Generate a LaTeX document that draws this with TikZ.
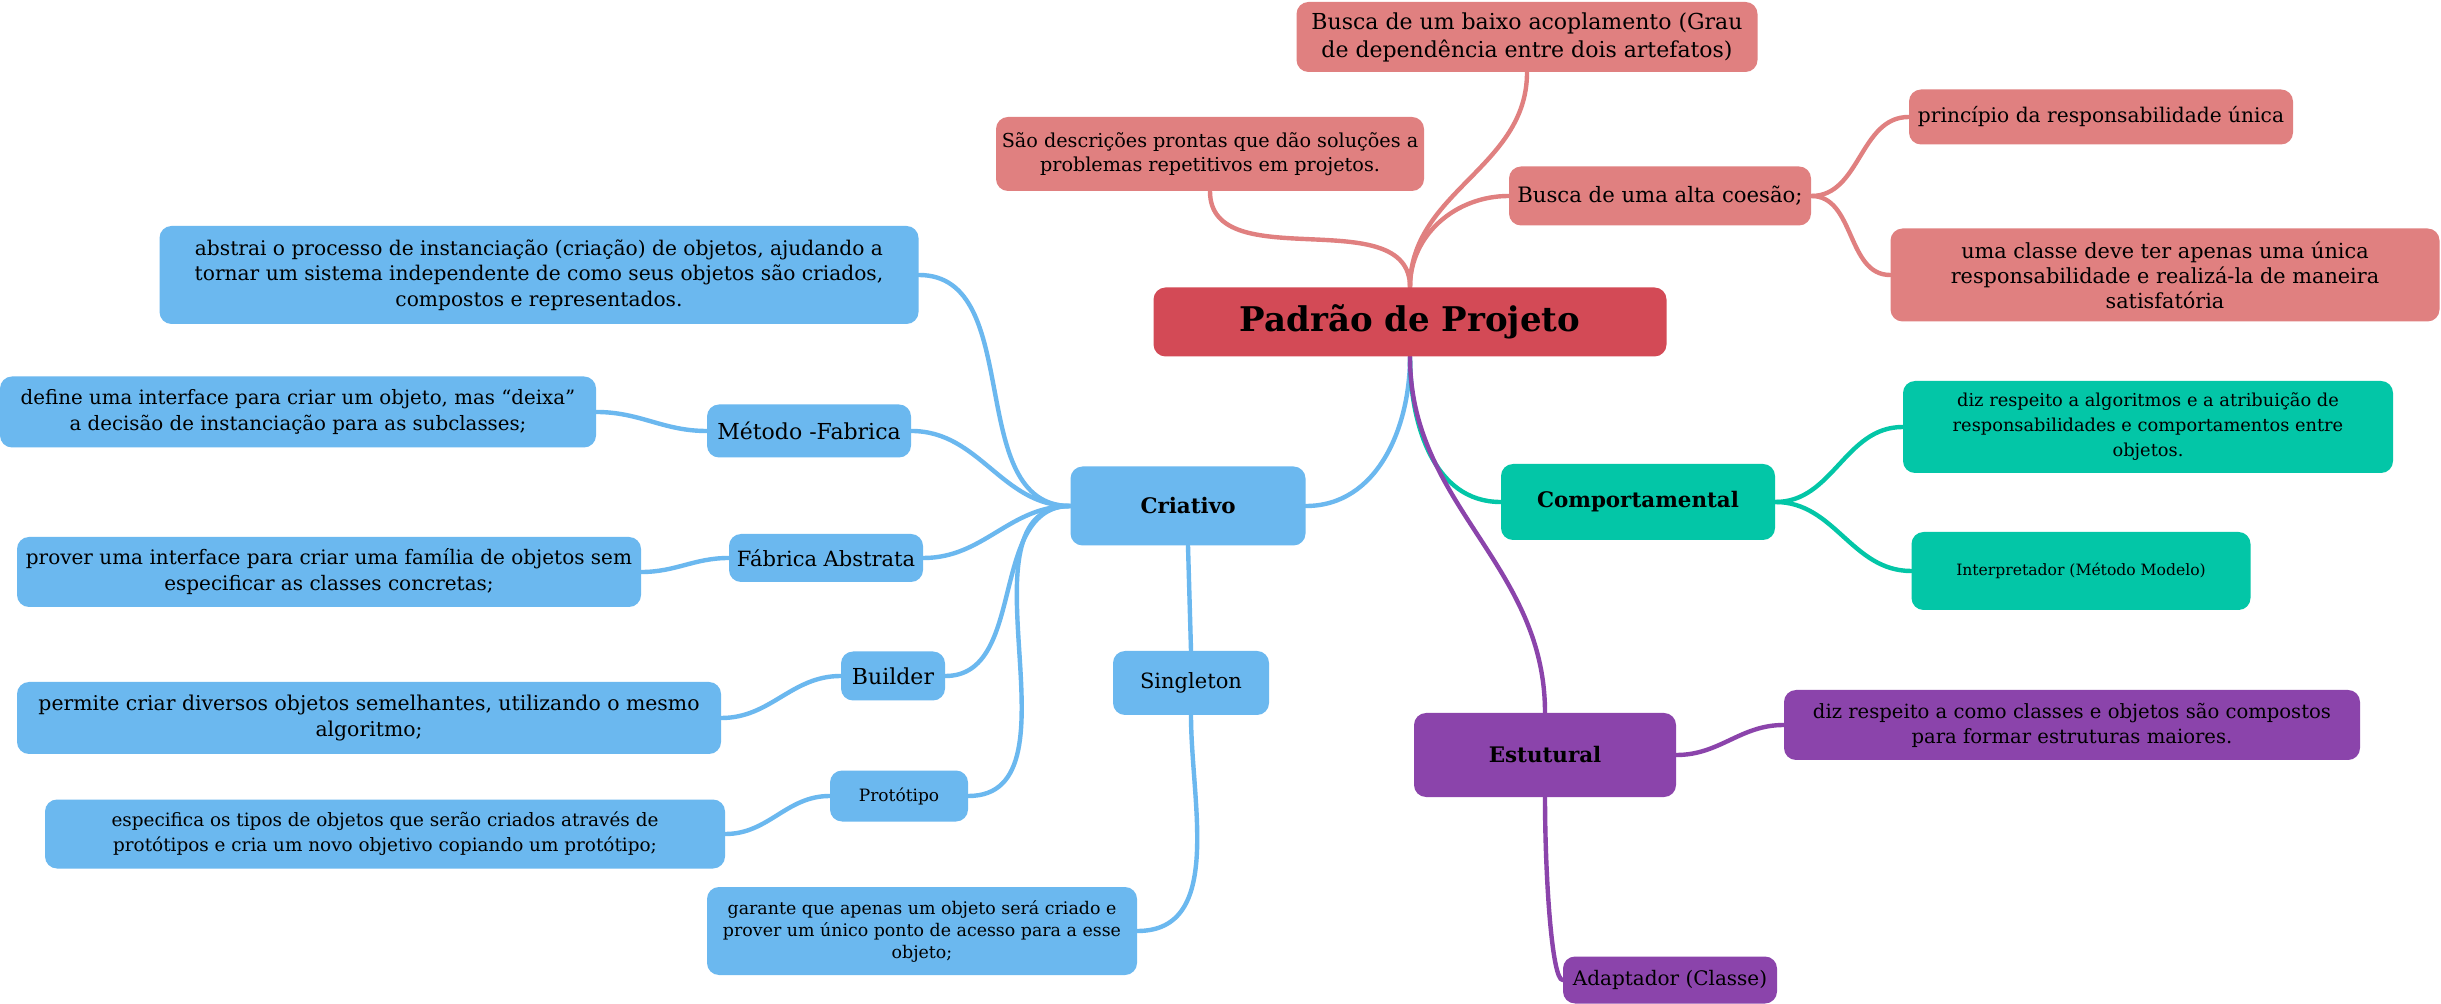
\documentclass[tikz,border=0pt]{standalone}
\usepackage{fontspec}
\setmainfont{DejaVu Serif}
\usepackage{tikz}
\usetikzlibrary{positioning,backgrounds}
\definecolor{raiz}{HTML}{D34A56}
\definecolor{rosa}{HTML}{E08080}
\definecolor{azul}{HTML}{6BB8EF}
\definecolor{verde}{HTML}{03C6A7}
\definecolor{roxo}{HTML}{8B44AB}

\begin{document}
\begin{tikzpicture}[
  x=0.5pt, y=-0.5pt,
  box/.style={rounded corners=6pt, align=center, inner sep=2pt, text=black},
  fs/.style 2 args={font=\fontsize{#1}{#2}\selectfont},
  hd/.style={box, font=\fontsize{10.7}{13}\selectfont\bfseries},
  pk/.style={box, fill=rosa},
  bl/.style={box, fill=azul},
  gr/.style={box, fill=verde},
  pu/.style={box, fill=roxo},
  lnk/.style={line width=2.2pt, line cap=round}
]
\useasboundingbox (0,0) rectangle (2441,1004);

\node[box, fill=raiz, minimum width=256.5pt, minimum height=34.5pt, font=\fontsize{17}{20}\selectfont\bfseries] (P) at (1410,322) {Padrão de Projeto};

\node[pk, fs={11}{14}, minimum width=230.5pt, minimum height=35pt] (acop) at (1527,37) {Busca de um baixo acoplamento (Grau\\de dependência entre dois artefatos)};
\node[pk, fs={9.6}{11.7}, minimum width=214pt, minimum height=37pt] (desc) at (1210,154) {São descrições prontas que dão soluções a\\problemas repetitivos em projetos.};
\node[pk, fs={10.6}{13}, minimum width=151pt, minimum height=29.5pt] (coes) at (1660,196) {Busca de uma alta coesão;};
\node[pk, fs={10.1}{12}, minimum width=192pt, minimum height=27.5pt] (resp) at (2101,117) {princípio da responsabilidade única};
\node[pk, fs={10.4}{12.5}, minimum width=274.5pt, minimum height=46.5pt] (classe) at (2165,275) {uma classe deve ter apenas uma única\\responsabilidade e realizá-la de maneira\\satisfatória};

\node[hd, fill=azul, minimum width=117.5pt, minimum height=39.5pt] (C) at (1188,506) {Criativo};
\node[bl, fs={10.1}{12.8}, minimum width=379.5pt, minimum height=49pt] (abs) at (539,275) {abstrai o processo de instanciação (criação) de objetos, ajudando a\\tornar um sistema independente de como seus objetos são criados,\\compostos e representados.};
\node[bl, fs={11}{13}, minimum width=102pt, minimum height=26.5pt] (mf) at (809,431) {Método -Fabrica};
\node[bl, fs={9.9}{13}, minimum width=298pt, minimum height=35.5pt] (mfd) at (298,412) {define uma interface para criar um objeto, mas “deixa”\\a decisão de instanciação para as subclasses;};
\node[bl, fs={10.5}{13}, minimum width=97pt, minimum height=24pt] (fa) at (826,558) {Fábrica Abstrata};
\node[bl, fs={10}{13}, minimum width=312pt, minimum height=35pt] (fad) at (329,572) {prover uma interface para criar uma família de objetos sem\\especificar as classes concretas;};
\node[bl, fs={11}{13}, minimum width=52pt, minimum height=24.5pt] (bu) at (893,676) {Builder};
\node[bl, fs={10.2}{13}, minimum width=352pt, minimum height=36pt] (bud) at (369,718) {permite criar diversos objetos semelhantes, utilizando o mesmo\\algoritmo;};
\node[bl, fs={8.5}{10}, minimum width=69pt, minimum height=25.5pt] (pr) at (899,796) {Protótipo};
\node[bl, fs={9.2}{12.5}, minimum width=340pt, minimum height=34.5pt] (prd) at (385,834) {especifica os tipos de objetos que serão criados através de\\protótipos e cria um novo objetivo copiando um protótipo;};
\node[bl, fs={10.5}{13}, minimum width=78pt, minimum height=32pt] (si) at (1191,683) {Singleton};
\node[bl, fs={8.7}{11}, minimum width=215pt, minimum height=44pt] (sid) at (922,931) {garante que apenas um objeto será criado e\\prover um único ponto de acesso para a esse\\objeto;};

\node[hd, fill=verde, minimum width=137pt, minimum height=38pt] (Co) at (1638,502) {Comportamental};
\node[gr, fs={8.9}{12.5}, minimum width=245pt, minimum height=46pt] (cod) at (2148,427) {diz respeito a algoritmos e a atribuição de\\responsabilidades e comportamentos entre\\objetos.};
\node[gr, fs={7.8}{10}, minimum width=169.5pt, minimum height=39pt] (int) at (2081,571) {Interpretador (Método Modelo)};

\node[hd, fill=roxo, minimum width=131pt, minimum height=42pt] (E) at (1545,755) {Estutural};
\node[pu, fs={9.8}{12.5}, minimum width=288pt, minimum height=35pt] (esd) at (2072,725) {diz respeito a como classes e objetos são compostos\\para formar estruturas maiores.};
\node[pu, fs={10}{12}, minimum width=107pt, minimum height=23.5pt] (ad) at (1670,980) {Adaptador (Classe)};

\begin{scope}[on background layer]
\fill[white] (0,0) rectangle (2441,1004);
\draw[lnk, rosa] (P.north) to[out=90,in=-90] (desc.south);
\draw[lnk, rosa] (P.north) to[out=90,in=-90] (acop.south);
\draw[lnk, rosa] (P.north) to[out=90,in=180] (coes.west);
\draw[lnk, rosa] (coes.east) to[out=0,in=180] (resp.west);
\draw[lnk, rosa] (coes.east) to[out=0,in=180] (classe.west);

\draw[lnk, azul] (P.south) to[out=-90,in=0] (C.east);
\draw[lnk, azul] (C.west) to[out=180,in=0] (abs.east);
\draw[lnk, azul] (C.west) to[out=180,in=0] (mf.east);
\draw[lnk, azul] (C.west) to[out=180,in=0] (fa.east);
\draw[lnk, azul] (C.west) to[out=180,in=0] (bu.east);
\draw[lnk, azul] (C.west) to[out=180,in=0] (pr.east);
\draw[lnk, azul] (mf.west) to[out=180,in=0] (mfd.east);
\draw[lnk, azul] (fa.west) to[out=180,in=0] (fad.east);
\draw[lnk, azul] (bu.west) to[out=180,in=0] (bud.east);
\draw[lnk, azul] (pr.west) to[out=180,in=0] (prd.east);
\draw[lnk, azul] (C.south) -- (si.north);
\draw[lnk, azul] (si.south) to[out=-90,in=0] (sid.east);

\draw[lnk, verde] (P.south) to[out=-90,in=180] (Co.west);
\draw[lnk, verde] (Co.east) to[out=0,in=180] (cod.west);
\draw[lnk, verde] (Co.east) to[out=0,in=180] (int.west);

\draw[lnk, roxo] (P.south) to[out=-90,in=90] (E.north);
\draw[lnk, roxo] (E.east) to[out=0,in=180] (esd.west);
\draw[lnk, roxo] (E.south) to[out=-90,in=180,out looseness=1.1,in looseness=0.15] (ad.west);
\end{scope}
\end{tikzpicture}
\end{document}
